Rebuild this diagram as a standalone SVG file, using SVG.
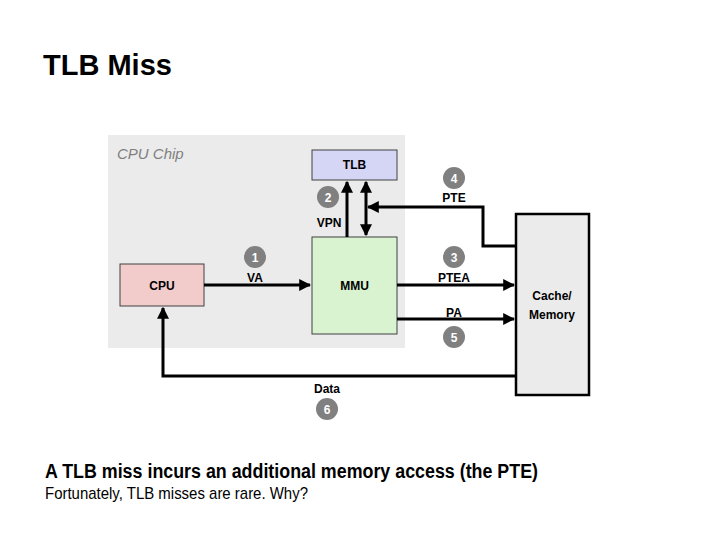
<svg xmlns="http://www.w3.org/2000/svg" width="720" height="540" viewBox="0 0 720 540">
<defs>
<marker id="ah" viewBox="0 0 10 10" refX="9" refY="5" markerWidth="4" markerHeight="4" orient="auto-start-reverse" markerUnits="strokeWidth">
<path d="M0,0 L10,5 L0,10 z" fill="#000"/>
</marker>
<style>
.lbl{font-family:"Liberation Sans",Arial,sans-serif;font-size:12px;font-weight:bold;fill:#000;text-anchor:middle}
.box{stroke:#404040;stroke-width:1}
.num circle{fill:#808080}
.num text{font-family:"Liberation Sans",Arial,sans-serif;font-size:12px;font-weight:bold;fill:#fff;text-anchor:middle}
.wire{fill:none;stroke:#000;stroke-width:3}
</style>
</defs>
<rect width="720" height="540" fill="#fff"/>
<text x="43" y="75" font-family="'Liberation Sans',Arial,sans-serif" font-size="29" font-weight="bold" fill="#000">TLB Miss</text>

<g id="chip">
<rect x="108" y="135" width="297" height="213" fill="#ebebeb"/>
<text x="117" y="159" font-family="'Liberation Sans',Arial,sans-serif" font-size="15" font-style="italic" fill="#7f7f7f">CPU Chip</text>
</g>

<g id="tlb">
<rect class="box" x="312" y="150" width="85" height="30" fill="#d5d5f5"/>
<text class="lbl" x="354.5" y="169">TLB</text>
</g>

<g id="cpu">
<rect class="box" x="120" y="264" width="84" height="42" fill="#f2cbcb"/>
<text class="lbl" x="162" y="290">CPU</text>
</g>

<g id="mmu">
<rect class="box" x="312" y="237" width="85" height="97" fill="#d9f3d0"/>
<text class="lbl" x="354.5" y="290" font-size="14">MMU</text>
</g>

<g id="memory">
<rect x="516" y="214" width="73" height="181" fill="#ebebeb" stroke="#000" stroke-width="2.5"/>
<text class="lbl" x="552" y="300" font-size="13">Cache/</text>
<text class="lbl" x="552" y="319" font-size="13">Memory</text>
</g>

<g id="connectors">
<line class="wire" x1="204" y1="285" x2="310" y2="285" marker-end="url(#ah)"/>
<line class="wire" x1="347" y1="237" x2="347" y2="182" marker-end="url(#ah)"/>
<line class="wire" x1="366" y1="235" x2="366" y2="182" marker-start="url(#ah)" marker-end="url(#ah)"/>
<polyline class="wire" points="516,246 483,246 483,207 368,207" marker-end="url(#ah)"/>
<line class="wire" x1="397" y1="285" x2="514" y2="285" marker-end="url(#ah)"/>
<line class="wire" x1="397" y1="319" x2="514" y2="319" marker-end="url(#ah)"/>
<polyline class="wire" points="516,376 163,376 163,308" marker-end="url(#ah)"/>
</g>

<g id="labels">
<text class="lbl" x="255" y="282">VA</text>
<text class="lbl" x="329" y="227">VPN</text>
<text class="lbl" x="454" y="202">PTE</text>
<text class="lbl" x="454" y="282">PTEA</text>
<text class="lbl" x="454" y="317">PA</text>
<text class="lbl" x="327" y="393">Data</text>
</g>

<g id="steps" class="num">
<circle cx="255" cy="257" r="11"/><text x="255" y="261.5">1</text>
<circle cx="328" cy="197" r="11"/><text x="328" y="201.5">2</text>
<circle cx="454" cy="257" r="11"/><text x="454" y="261.5">3</text>
<circle cx="454" cy="178" r="11"/><text x="454" y="182.5">4</text>
<circle cx="454" cy="337" r="11"/><text x="454" y="341.5">5</text>
<circle cx="327" cy="409" r="11"/><text x="327" y="413.5">6</text>
</g>

<text x="45" y="478" font-family="'Liberation Sans',Arial,sans-serif" font-size="20" font-weight="bold" fill="#000" textLength="493" lengthAdjust="spacingAndGlyphs">A TLB miss incurs an additional memory access (the PTE)</text>
<text x="45" y="499" font-family="'Liberation Sans',Arial,sans-serif" font-size="17" fill="#000" textLength="263" lengthAdjust="spacingAndGlyphs">Fortunately, TLB misses are rare. Why?</text>
</svg>
